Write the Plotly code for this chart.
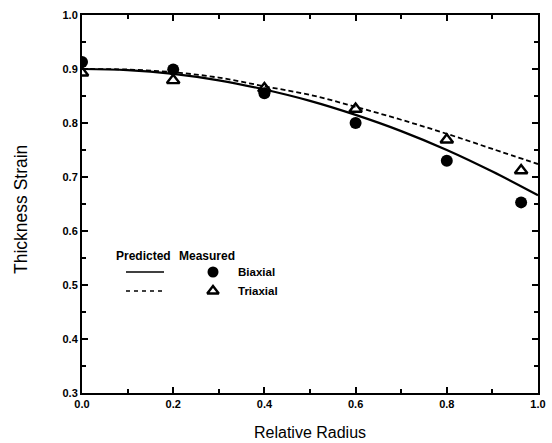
import plotly.graph_objects as go

# Predicted curves
curve_x = [0.0, 0.1, 0.2, 0.3, 0.4, 0.5, 0.6, 0.7, 0.8, 0.9, 1.0]
biaxial_pred = [0.900, 0.898, 0.891, 0.879, 0.862, 0.841, 0.815, 0.785, 0.750, 0.710, 0.666]
triaxial_pred = [0.900, 0.899, 0.894, 0.884, 0.868, 0.852, 0.830, 0.806, 0.780, 0.752, 0.724]

# Measured points
meas_x = [0.0, 0.2, 0.4, 0.6, 0.8, 0.963]
biaxial_meas = [0.913, 0.899, 0.855, 0.800, 0.730, 0.653]
triaxial_meas = [0.893, 0.879, 0.864, 0.826, 0.769, 0.712]

x_ticks = [0.0, 0.2, 0.4, 0.6, 0.8, 1.0]
x_minor = [0.1, 0.3, 0.5, 0.7, 0.9]
y_ticks = [0.3, 0.4, 0.5, 0.6, 0.7, 0.8, 0.9, 1.0]
y_minor = [0.35, 0.45, 0.55, 0.65, 0.75, 0.85, 0.95]

FONT = "Liberation Sans"

# plot area in pixels: x 82..538, y 15..393
def px(x):
    return (x - 82) / 456

def py(y):
    return 1 - (y - 15) / 378

def dx(x):
    return px(x) * 1.0

def dy(y):
    return 0.3 + py(y) * 0.7

fig = go.Figure()
fig.add_trace(go.Scatter(x=curve_x, y=biaxial_pred, mode="lines", line=dict(color="black", width=2.2, shape="spline"), showlegend=False))
fig.add_trace(go.Scatter(x=curve_x, y=triaxial_pred, mode="lines", line=dict(color="black", width=1.8, dash="5px,3px", shape="spline"), showlegend=False))
fig.add_trace(go.Scatter(x=meas_x, y=biaxial_meas, mode="markers", marker=dict(symbol="circle", size=12, color="black"), showlegend=False))
fig.add_trace(go.Scatter(x=meas_x, y=triaxial_meas, mode="markers", marker=dict(symbol="triangle-up-open", size=11, color="black", line=dict(width=2.4, color="black")), showlegend=False))

# Legend glyphs
fig.add_trace(go.Scatter(x=[dx(213)], y=[dy(272)], mode="markers", marker=dict(symbol="circle", size=11, color="black"), showlegend=False, hoverinfo="skip"))
fig.add_trace(go.Scatter(x=[dx(213)], y=[dy(291)], mode="markers", marker=dict(symbol="triangle-up-open", size=10, color="black", line=dict(width=2.4, color="black")), showlegend=False, hoverinfo="skip"))
fig.add_shape(type="line", xref="paper", yref="paper", x0=px(126), x1=px(164), y0=py(272), y1=py(272), line=dict(color="black", width=1.5))
fig.add_shape(type="line", xref="paper", yref="paper", x0=px(126), x1=px(164), y0=py(291), y1=py(291), line=dict(color="black", width=1.5, dash="4px,4px"))

fig.add_annotation(text="<b>Predicted</b>", xref="paper", yref="paper", x=px(114), y=py(256), xanchor="left", yanchor="middle", showarrow=False, font=dict(size=12, family=FONT, color="black"))
fig.add_annotation(text="<b>Measured</b>", xref="paper", yref="paper", x=px(177), y=py(256), xanchor="left", yanchor="middle", showarrow=False, font=dict(size=12, family=FONT, color="black"))
fig.add_annotation(text="<b>Biaxial</b>", xref="paper", yref="paper", x=px(236), y=py(272), xanchor="left", yanchor="middle", showarrow=False, font=dict(size=11.5, family=FONT, color="black"))
fig.add_annotation(text="<b>Triaxial</b>", xref="paper", yref="paper", x=px(236), y=py(291), xanchor="left", yanchor="middle", showarrow=False, font=dict(size=11.5, family=FONT, color="black"))

# Axis titles
fig.add_annotation(text="Relative Radius", xref="paper", yref="paper", x=px(310), y=py(432), xanchor="center", yanchor="middle", showarrow=False, font=dict(size=16, family=FONT, color="black"))
fig.add_annotation(text="Thickness Strain", xref="paper", yref="paper", x=px(21), y=py(210), xanchor="center", yanchor="middle", textangle=-90, showarrow=False, font=dict(size=17.5, family=FONT, color="black"))

axis_common = dict(
    showgrid=False, zeroline=False, showline=True, linecolor="black", linewidth=2,
    mirror="allticks", ticks="inside", ticklen=6, tickwidth=2, tickcolor="black",
    tickfont=dict(size=11, family=FONT, color="black"), automargin=False,
)
fig.update_xaxes(range=[0, 1.0], tickvals=x_ticks, ticktext=["<b>%.1f</b>" % v for v in x_ticks],
                 minor=dict(tickvals=x_minor, ticks="inside", ticklen=4, tickwidth=2, tickcolor="black"),
                 **axis_common)
fig.update_yaxes(range=[0.3, 1.0], tickvals=y_ticks, ticktext=["<b>%.1f</b>" % v for v in y_ticks],
                 minor=dict(tickvals=y_minor, ticks="inside", ticklen=4, tickwidth=2, tickcolor="black"),
                 **axis_common)

fig.update_layout(width=552, height=443, margin=dict(l=82, r=14, t=15, b=50),
                  plot_bgcolor="white", paper_bgcolor="white", font=dict(family=FONT, color="black"))

fig.write_html("out.html", config={"displayModeBar": False},
               post_script="document.body.style.margin='0px';document.body.style.overflow='hidden';")
